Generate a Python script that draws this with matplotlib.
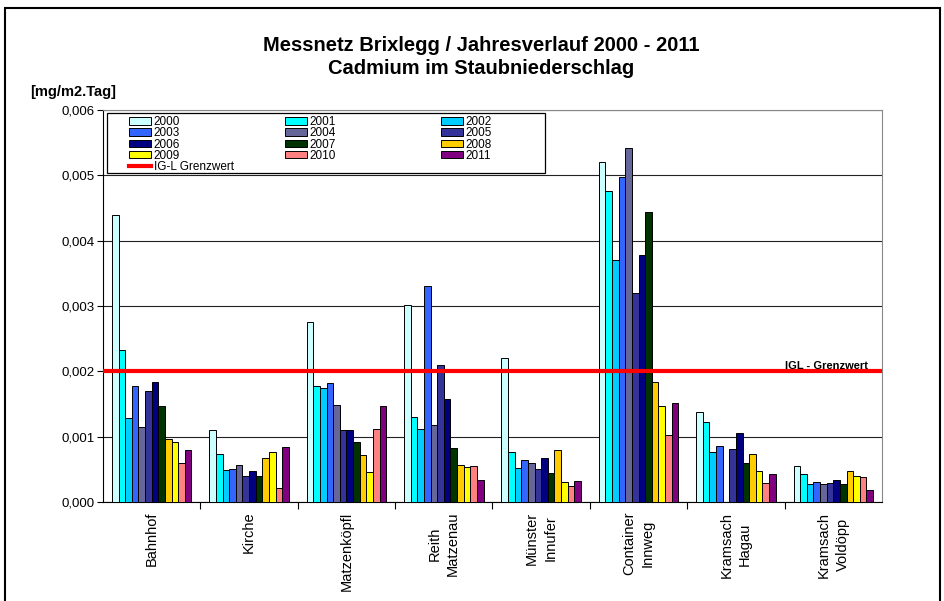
import numpy as np
import matplotlib.pyplot as plt
from matplotlib.patches import Rectangle
from matplotlib.lines import Line2D
from matplotlib.legend import Legend
from matplotlib.ticker import FuncFormatter, FixedLocator

plt.rcParams['font.family'] = ['Liberation Sans', 'DejaVu Sans']

# stations (x axis) and years (series)
stations = ["Bahnhof", "Kirche", "Matzenköpfl", "Reith\nMatzenau", "Münster\nInnufer",
            "Container\nInnweg", "Kramsach\nHagau", "Kramsach\nVoldöpp"]
years = ["2000", "2001", "2002", "2003", "2004", "2005",
         "2006", "2007", "2008", "2009", "2010", "2011"]
year_colors = ["#CCFFFF", "#00FFFF", "#00CCFF", "#3366FF", "#666699", "#333399",
               "#000080", "#003300", "#FFCC00", "#FFFF00", "#FF8080", "#800080"]

# values in mg/m2.Tag, one list per station (2000..2011)
bahnhof = [0.00440, 0.00233, 0.00128, 0.00178, 0.00115, 0.00170, 0.00183, 0.00147, 0.00096, 0.00092, 0.00060, 0.00080]
kirche = [0.00110, 0.00074, 0.00049, 0.00050, 0.00057, 0.00040, 0.00048, 0.00040, 0.00068, 0.00077, 0.00021, 0.00084]
matzenkoepfl = [0.00275, 0.00178, 0.00174, 0.00182, 0.00149, 0.00110, 0.00110, 0.00092, 0.00072, 0.00046, 0.00111, 0.00147]
reith = [0.00302, 0.00130, 0.00112, 0.00330, 0.00118, 0.00210, 0.00158, 0.00083, 0.00056, 0.00053, 0.00055, 0.00034]
muenster = [0.00220, 0.00077, 0.00052, 0.00065, 0.00060, 0.00050, 0.00067, 0.00044, 0.00080, 0.00031, 0.00024, 0.00032]
container = [0.00521, 0.00476, 0.00370, 0.00497, 0.00542, 0.00320, 0.00378, 0.00444, 0.00184, 0.00147, 0.00102, 0.00152]
hagau = [0.00137, 0.00123, 0.00076, 0.00086, np.nan, 0.00081, 0.00106, 0.00059, 0.00073, 0.00048, 0.00029, 0.00043]
voldoepp = [0.00055, 0.00043, 0.00027, 0.00030, 0.00028, 0.00029, 0.00033, 0.00028, 0.00047, 0.00040, 0.00038, 0.00019]

grenzwert = 0.002

data = np.array([bahnhof, kirche, matzenkoepfl, reith, muenster, container, hagau, voldoepp])

fig = plt.figure(figsize=(9.45, 6.01), dpi=100)
ax = fig.add_axes([103/945, 1 - 502/601, 779/945, 392/601])

x = np.arange(len(stations))
w = 0.068
for i, yr in enumerate(years):
    ax.bar(x + (i - 5.5) * w, data[:, i], width=w, color=year_colors[i],
           edgecolor="black", linewidth=0.7, zorder=3)

ax.axhline(grenzwert, color="#FF0000", linewidth=3, zorder=4)
ax.text(0.982, grenzwert, "IGL - Grenzwert", transform=ax.get_yaxis_transform(),
        ha="right", va="bottom", fontsize=8, fontweight="bold", zorder=5)

ax.set_xlim(-0.5, len(stations) - 0.5)
ax.set_ylim(0, 0.006)
ax.set_yticks(np.arange(0, 0.0061, 0.001))
ax.yaxis.set_major_formatter(FuncFormatter(lambda v, p: f"{v:.3f}".replace(".", ",")))
ax.yaxis.grid(True, color="#222222", linewidth=0.8, zorder=0)
ax.tick_params(axis="y", direction="out", length=4, width=0.8, labelsize=9.5, pad=2)

ax.xaxis.set_major_locator(FixedLocator(x[:-1] + 0.5))
ax.xaxis.set_major_formatter(FuncFormatter(lambda v, p: ""))
ax.xaxis.set_minor_locator(FixedLocator(x))
ax.set_xticklabels(stations, minor=True, rotation=90, fontsize=10.5, linespacing=1.4,
                   va="top", ha="center")
ax.tick_params(axis="x", which="major", direction="out", length=5, width=0.8)
ax.tick_params(axis="x", which="minor", length=0, pad=7)

for s in ["top", "right"]:
    ax.spines[s].set_color("#888888")
    ax.spines[s].set_linewidth(0.8)
for s in ["left", "bottom"]:
    ax.spines[s].set_color("black")
    ax.spines[s].set_linewidth(0.8)

# legend: three columns, Excel style, inside a single frame
handles = [Rectangle((0, 0), 1, 1, facecolor=c, edgecolor="black", linewidth=0.7) for c in year_colors]
red_handle = Line2D([0], [0], color="#FF0000", linewidth=3)
cols = [
    ([handles[0], handles[3], handles[6], handles[9], red_handle],
     [years[0], years[3], years[6], years[9], "IG-L Grenzwert"]),
    ([handles[1], handles[4], handles[7], handles[10]], [years[1], years[4], years[7], years[10]]),
    ([handles[2], handles[5], handles[8], handles[11]], [years[2], years[5], years[8], years[11]]),
]
col_x = [(129 - 103) / 779, (285 - 103) / 779, (441 - 103) / 779]
top_y = (502 - 116) / 392
ax.add_patch(Rectangle(((107 - 103) / 779, (502 - 173) / 392), (545 - 107) / 779, 60 / 392,
                       transform=ax.transAxes, facecolor="white", edgecolor="black",
                       linewidth=0.9, zorder=5))
for (h, l), cx in zip(cols, col_x):
    leg = Legend(ax, h, l, loc="upper left", bbox_to_anchor=(cx, top_y), frameon=False,
                 fontsize=8.5, borderpad=0, borderaxespad=0, handlelength=1.9,
                 handleheight=0.6, handletextpad=0.2, labelspacing=-0.06)
    leg.set_zorder(6)
    ax.add_artist(leg)

fig.text(481 / 945, 1 - 57 / 601, "Messnetz Brixlegg / Jahresverlauf 2000 - 2011\nCadmium im Staubniederschlag",
         ha="center", va="center", fontsize=14.5, fontweight="bold", linespacing=1.25)
fig.text(30 / 945, 1 - 92 / 601, "[mg/m2.Tag]", ha="left", va="center", fontsize=10.5, fontweight="bold")

fig.patches.append(Rectangle((5 / 945, -0.02), 935 / 945, 1.02 - 8 / 601, transform=fig.transFigure,
                             fill=False, edgecolor="black", linewidth=1.5))

fig.savefig("out.png", dpi=100)
